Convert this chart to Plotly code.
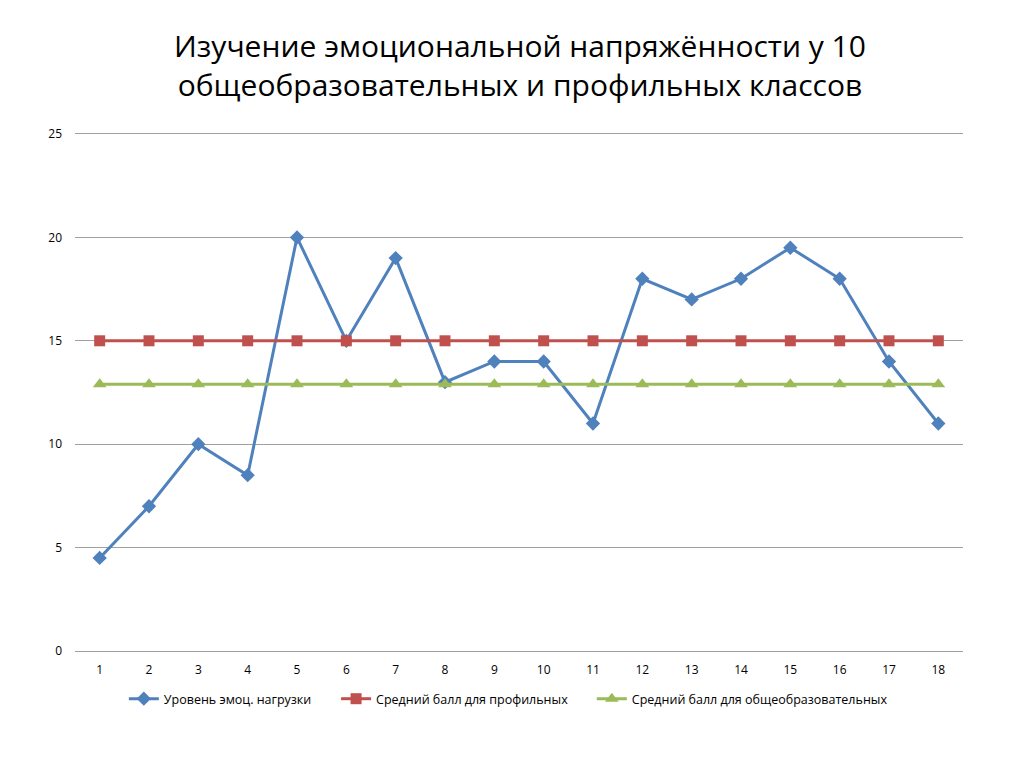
import plotly.graph_objects as go

classes = list(range(1, 19))
load_level = [4.5, 7, 10, 8.5, 20, 15, 19, 13, 14, 14, 11, 18, 17, 18, 19.5, 18, 14, 11]
avg_profile = [15] * 18
avg_general = [12.9] * 18

names = ["Уровень эмоц. нагрузки", "Средний балл для профильных", "Средний балл для общеобразовательных"]
colors = ["#4F81BD", "#C0504D", "#9BBB59"]
symbols = ["diamond", "square", "triangle-up"]
sizes = [11, 11, 12]
legend_ids = ["legend", "legend2", "legend3"]
legend_x = [0.055, 0.294, 0.582]

fig = go.Figure()
for ys, n, c, s, sz, lg in zip([load_level, avg_profile, avg_general], names, colors, symbols, sizes, legend_ids):
    fig.add_trace(go.Scatter(x=classes, y=ys, name=n, mode="lines+markers",
                             line=dict(color=c, width=3),
                             marker=dict(symbol=s, size=sz, color=c),
                             legend=lg))

leg_common = dict(orientation="h", xanchor="left", y=-0.093, yanchor="middle",
                  font=dict(size=12.5), itemwidth=30, bgcolor="rgba(0,0,0,0)")

fig.update_layout(
    width=1024, height=767,
    paper_bgcolor="white", plot_bgcolor="white",
    font=dict(family="Open Sans, Noto Sans, sans-serif", color="#000000"),
    title=dict(text="Изучение эмоциональной напряжённости у 10<br>общеобразовательных и профильных классов",
               x=0.5, xanchor="center", y=0.9365, yanchor="middle",
               font=dict(size=30, color="#000000")),
    margin=dict(l=67, r=69, t=126, b=124),
    showlegend=True,
    legend=dict(x=legend_x[0], **leg_common),
    legend2=dict(x=legend_x[1], **leg_common),
    legend3=dict(x=legend_x[2], **leg_common),
    xaxis=dict(range=[0.5, 18.5], tickmode="array", tickvals=classes,
               ticktext=[str(c) for c in classes], showgrid=False, zeroline=False,
               showline=True, mirror=True, linecolor="#A0A0A0", linewidth=1,
               ticks="", tickfont=dict(size=12), ticklabelstandoff=8),
    yaxis=dict(range=[0, 25], tickvals=[0, 5, 10, 15, 20, 25], showgrid=True,
               gridcolor="#A0A0A0", gridwidth=1, zeroline=False, showline=False,
               ticks="", tickfont=dict(size=12), ticklabelstandoff=12),
)

fig.write_html("out.html")
